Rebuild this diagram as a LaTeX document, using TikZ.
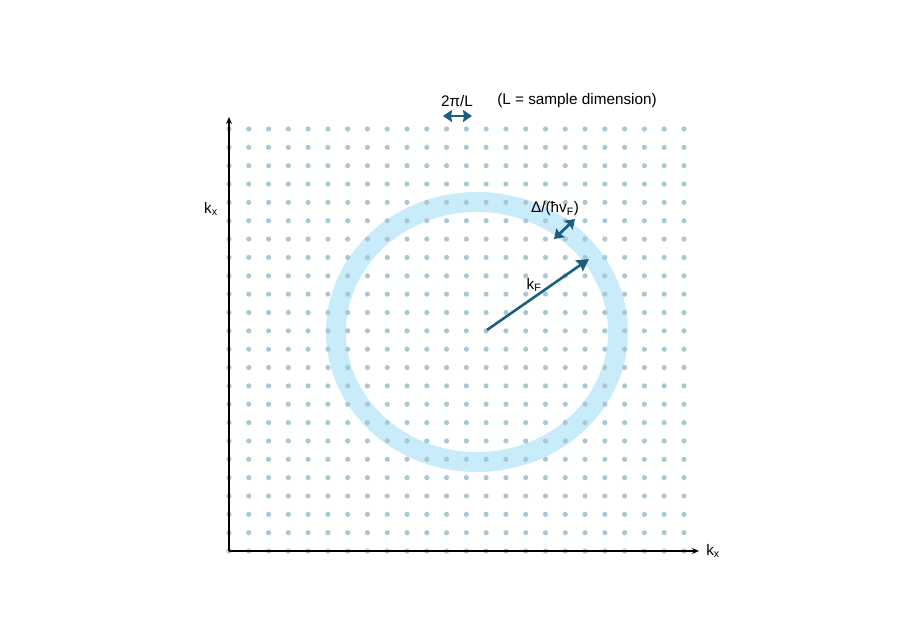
\documentclass[tikz,border=0pt]{standalone}
\usepackage{fontspec}
\setmainfont{Liberation Sans}
\usetikzlibrary{arrows.meta}
\definecolor{dotc}{HTML}{A9C7D5}
\definecolor{ringc}{HTML}{C9ECFB}
\definecolor{arrc}{HTML}{1B5E7E}
\begin{document}
\begin{tikzpicture}[x=1pt,y=-1pt,
  lbl/.style={font=\fontsize{15.3}{17}\selectfont, inner sep=0pt},
  axis/.style={line width=1.3pt, black, -{Stealth[length=7pt,width=6pt]}},
  darr/.style={line width=2.8pt, arrc, {Stealth[length=9pt,width=12pt,inset=1pt]}-{Stealth[length=9pt,width=12pt,inset=1pt]}},
  sarr/.style={line width=2.6pt, arrc, -{Stealth[length=12pt,width=13pt,inset=1.5pt]}}]
\useasboundingbox (0,0) rectangle (897,634);
% ring
\draw[ringc, line width=20pt] (477,332) ellipse [x radius=141, y radius=130];
% dots
\foreach \i in {0,...,23} {
  \foreach \j in {0,...,23} {
    \fill[dotc] ({229+\i*19.78},{129+\j*18.35}) circle (2.6);
  }
}
% axes
\coordinate (O) at (229,551);
\coordinate (ytop) at (229,117);
\coordinate (xend) at (699,551);
\draw[axis] (O) -- (ytop);
\draw[axis] (O) -- (xend);
\node[lbl] (ky) at (211,209) {k\textsubscript{x}};
\node[lbl] (kx) at (713,551) {k\textsubscript{x}};
% 2pi/L
\node[lbl] (twopi) at (457,101) {2π/L};
\node[lbl] (ldim) at (577,101) {(L = sample dimension)};
\coordinate (la) at (443,116);
\coordinate (lb) at (472,116);
\draw[darr] (la) -- (lb);
% kF
\coordinate (ctr) at (487,330);
\coordinate (kfend) at (589,259);
\draw[sarr] (ctr) -- (kfend);
\node[lbl] (kf) at (534,285) {k\textsubscript{F}};
% Delta
\coordinate (da) at (554,239);
\coordinate (db) at (575,219);
\draw[darr] (da) -- (db);
\node[lbl] (delta) at (555,209) {Δ/(ħv\textsubscript{F})};
\end{tikzpicture}
\end{document}
